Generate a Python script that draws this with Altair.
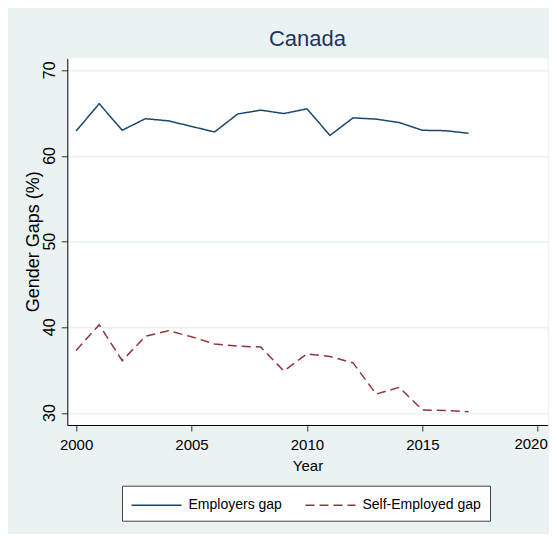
import altair as alt
import pandas as pd

years = list(range(2000, 2018))
employers_gap = [62.9, 66.1, 63.0, 64.35, 64.1, 63.45, 62.8, 64.9, 65.35, 64.95, 65.5, 62.4, 64.45, 64.3, 63.9, 63.0, 62.95, 62.65]
self_employed_gap = [37.3, 40.3, 36.1, 38.95, 39.6, 38.9, 38.05, 37.8, 37.7, 34.9, 36.9, 36.6, 35.85, 32.2, 33.0, 30.35, 30.3, 30.15]
series = ["Employers gap", "Self-Employed gap"]
colors = ["#1A476F", "#90353B"]
y_ticks = [30, 40, 50, 60, 70]
x_ticks = [2000, 2005, 2010, 2015, 2020]

df = pd.DataFrame({
    "Year": years * 2,
    "Gap": employers_gap + self_employed_gap,
    "Series": [series[0]] * len(years) + [series[1]] * len(years),
})
ylab_df = pd.DataFrame({"Gap": y_ticks})
xlab_last_df = pd.DataFrame({"Year": x_ticks[-1:]})

FONT = "Liberation Sans, Arial, sans-serif"
PLOT_H = 366.7

x_scale = alt.Scale(domain=[1999.62, 2020.43], nice=False, zero=False)
y_scale = alt.Scale(domain=[28.6, 71.4], nice=False, zero=False)

lines = alt.Chart(df).mark_line(strokeWidth=1.5).encode(
    x=alt.X("Year:Q", scale=x_scale,
            axis=alt.Axis(values=x_ticks, format="d", title="Year", grid=False,
                          tickSize=6, labelPadding=6, titleY=40, titleBaseline="middle",
                          labelFontSize=15, titleFontSize=15, labelFlush=False,
                          labelExpr="datum.value == 2020 ? '' : datum.label")),
    y=alt.Y("Gap:Q", scale=y_scale,
            axis=alt.Axis(values=y_ticks, title="Gender Gaps (%)", grid=True,
                          tickSize=6, labels=False, titleFontSize=18,
                          titleX=-34, titleY=183, titleAlign="center", titleBaseline="middle",
                          titleAngle=270)),
    color=alt.Color("Series:N",
                    scale=alt.Scale(domain=series, range=colors),
                    legend=alt.Legend(title=None, orient="none", legendX=54.7, legendY=427.4,
                                      direction="horizontal", symbolType="M-1,0H4",
                                      symbolSize=400, symbolStrokeWidth=1.5,
                                      labelFontSize=14, labelFont=FONT, labelOffset=36,
                                      columnPadding=20, padding=8.5, fillColor="white",
                                      strokeColor="#444444", labelColor="black")),
    strokeDash=alt.StrokeDash("Series:N",
                              scale=alt.Scale(domain=series, range=[[1, 0], [9, 5]]),
                              legend=None),
)

ylabels = alt.Chart(ylab_df).mark_text(
    angle=270, align="center", baseline="alphabetic", font=FONT, fontSize=16, color="black"
).encode(
    y=alt.Y("Gap:Q", scale=y_scale),
    x=alt.value(-12.3),
    text=alt.Text("Gap:Q", format="d"),
)

xlabel_last = alt.Chart(xlab_last_df).mark_text(
    align="right", baseline="top", dx=10, font=FONT, fontSize=15, color="black"
).encode(
    x=alt.X("Year:Q", scale=x_scale),
    y=alt.value(PLOT_H + 12),
    text=alt.Text("Year:Q", format="d"),
)

chart = alt.layer(lines, ylabels, xlabel_last).properties(
    width=480.4,
    height=PLOT_H,
    title=alt.Title("Canada", fontSize=22, font=FONT, fontWeight="normal",
                    color="#1E3560", anchor="middle", frame="group", offset=8,
                    baseline="alphabetic", dy=18),
    background="#EAF2F3",
    autosize=alt.AutoSizeParams(type="none"),
    padding={"left": 59.3, "top": 50.3, "right": 1.3, "bottom": 109},
).configure_view(
    fill="white", stroke=None
).configure_axis(
    labelFont=FONT, titleFont=FONT, labelColor="black", titleColor="black",
    domainColor="black", domainWidth=1, tickColor="#333333", tickWidth=1,
    gridColor="#EAF2F3", gridWidth=1.5, titleFontWeight="normal",
)

chart.save("out.html", embed_options={"renderer": "svg", "actions": False})
